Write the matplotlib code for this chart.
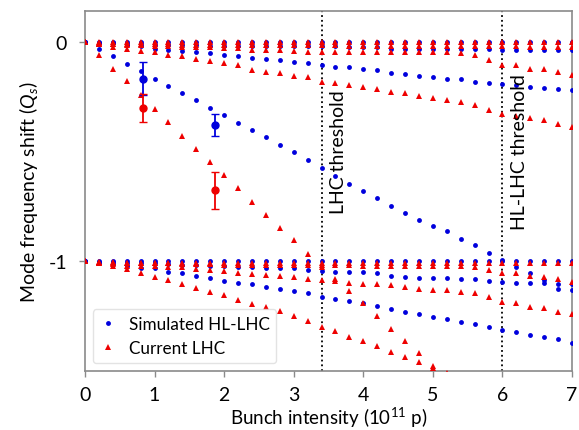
import numpy as np
import matplotlib
matplotlib.use("Agg")
import matplotlib.pyplot as plt

# Bunch intensity grid (1e11 p)
x = [0.0, 0.2, 0.4, 0.6, 0.8, 1.0, 1.2, 1.4, 1.6, 1.8, 2.0, 2.2, 2.4, 2.6, 2.8, 3.0, 3.2, 3.4,
     3.6, 3.8, 4.0, 4.2, 4.4, 4.6, 4.8, 5.0, 5.2, 5.4, 5.6, 5.8, 6.0, 6.2, 6.4, 6.6, 6.8, 7.0]

# ---- Simulated HL-LHC (blue) ----
hl_m0 = [0.0, 0.0, 0.0, 0.0, 0.0, 0.0, 0.0, 0.0, 0.0, 0.0, 0.0, 0.0, 0.0, 0.0, 0.0, 0.0, 0.0, 0.0,
         0.0, 0.0, 0.0, 0.0, 0.0, 0.0, 0.0, 0.0, 0.0, 0.0, 0.0, 0.0, 0.0, 0.0, 0.0, 0.0, 0.0, 0.0]
hl_m1 = [0.0, -0.005, -0.008, -0.01, -0.012, -0.014, -0.015, -0.016, -0.017, -0.018, -0.018, -0.019,
         -0.019, -0.02, -0.02, -0.02, -0.02, -0.02, -0.021, -0.022, -0.022, -0.023, -0.032, -0.033,
         -0.034, -0.034, -0.034, -0.035, -0.035, -0.035, -0.036, -0.036, -0.036, -0.037, -0.037, -0.037]
hl_m2 = [0.0, -0.004, -0.008, -0.013, -0.02, -0.032, -0.04, -0.043, -0.049, -0.053, -0.059, -0.065,
         -0.073, -0.079, -0.085, -0.091, -0.096, -0.106, -0.116, -0.116, -0.123, -0.127, -0.143, -0.148,
         -0.155, -0.162, -0.168, -0.172, -0.182, -0.186, -0.193, -0.199, -0.205, -0.211, -0.214, -0.22]
hl_m3 = [0.0, -0.035, -0.067, -0.102, -0.135, -0.169, -0.202, -0.233, -0.266, -0.301, -0.336, -0.37,
         -0.403, -0.434, -0.469, -0.501, -0.54, -0.577, -0.612, -0.647, -0.682, -0.713, -0.747, -0.782,
         -0.813, -0.84, -0.863, -0.897, -0.928, -0.963, -0.995, -1.027, -1.055, -1.085, -1.125, -1.13]
hl_l0 = [-1.0, -1.0, -1.0, -1.0, -1.0, -1.0, -1.0, -1.0, -1.0, -1.0, -1.0, -1.0, -1.0, -1.0, -1.0, -1.0,
         -1.0, -1.0, -1.0, -1.0, -1.0, -1.0, -1.0, -1.0, -1.0, -1.0, -1.0, -1.0, -1.0, -1.0, -1.0, -1.0,
         -1.0, -1.0, -1.0, -1.0]
hl_l1 = [-1.0, -1.002, -1.004, -1.006, -1.008, -1.01, -1.014, -1.016, -1.018, -1.02, -1.022, -1.024,
         -1.024, -1.029, -1.029, -1.033, -1.04, -1.043, -1.048, -1.051, -1.051, -1.053, -1.066, -1.07,
         -1.075, -1.075, -1.078, -1.082, -1.083, -1.09, -1.094, -1.097, -1.099, -1.1, -1.102, -1.104]
hl_l2 = [-1.0, -1.006, -1.012, -1.02, -1.029, -1.033, -1.047, -1.055, -1.067, -1.075, -1.088, -1.097,
         -1.105, -1.116, -1.125, -1.136, -1.145, -1.161, -1.173, -1.183, -1.192, -1.204, -1.218, -1.229,
         -1.241, -1.254, -1.265, -1.275, -1.288, -1.3, -1.313, -1.322, -1.334, -1.345, -1.355, -1.373]

# ---- Current LHC (red) ----
lhc_m0 = [0.0, 0.0, 0.0, 0.0, 0.0, 0.0, 0.0, 0.0, 0.0, 0.0, 0.0, 0.0, 0.0, 0.0, 0.0, 0.0, 0.0, 0.0,
          0.0, 0.0, 0.0, 0.0, 0.0, 0.0, 0.0, 0.0, 0.0, 0.0, 0.0, 0.0, 0.0, 0.0, 0.0, 0.0, 0.0, 0.0]
lhc_m1 = [0.0, -0.008, -0.009, -0.01, -0.011, -0.012, -0.012, -0.013, -0.013, -0.014, -0.014, -0.015,
          -0.015, -0.016, -0.016, -0.016, -0.017, -0.017, -0.017, -0.018, -0.018, -0.018, -0.019, -0.019,
          -0.019, -0.02, -0.02, -0.02, -0.02, -0.021, -0.021, -0.021, -0.022, -0.022, -0.022, -0.022]
lhc_m2 = [0.0, -0.01, -0.012, -0.015, -0.017, -0.018, -0.02, -0.022, -0.024, -0.026, -0.028, -0.03,
          -0.037, -0.04, -0.04, -0.042, -0.045, -0.046, -0.046, -0.047, -0.047, -0.047, -0.048, -0.048,
          -0.048, -0.049, -0.049, -0.05, -0.06, -0.084, -0.104, -0.104, -0.124, -0.126, -0.14, -0.151]
lhc_m3 = [0.0, -0.012, -0.024, -0.032, -0.043, -0.047, -0.059, -0.067, -0.078, -0.09, -0.096, -0.105,
          -0.131, -0.136, -0.142, -0.154, -0.163, -0.182, -0.186, -0.199, -0.208, -0.217, -0.228, -0.233,
          -0.248, -0.256, -0.264, -0.275, -0.29, -0.31, -0.329, -0.338, -0.347, -0.356, -0.374, -0.388]
lhc_m4 = [0.0, -0.062, -0.126, -0.181, -0.245, -0.306, -0.367, -0.428, -0.489, -0.55, -0.607, -0.668,
          -0.729, -0.79, -0.85, -0.903, -0.965, -1.025, -1.08, -1.136, -1.192, -1.25, -1.31, -1.365,
          -1.42, -1.477, np.nan, np.nan, np.nan, np.nan, np.nan, np.nan, np.nan, np.nan, np.nan, np.nan]
lhc_l0 = [-1.0, -1.008, -1.008, -1.008, -1.008, -1.008, -1.008, -1.008, -1.008, -1.008, -1.008, -1.008,
          -1.008, -1.008, -1.008, -1.008, -1.008, -1.008, -1.008, -1.008, -1.008, -1.008, -1.008, -1.008,
          -1.008, -1.008, -1.008, -1.008, -1.008, -1.008, -1.008, -1.008, -1.008, -1.008, -1.008, -1.008]
lhc_l1 = [-1.0, -1.003, -1.005, -1.006, -1.008, -1.009, -1.01, -1.012, -1.013, -1.014, -1.015, -1.015,
          -1.016, -1.016, -1.017, -1.017, -1.018, -1.018, -1.019, -1.019, -1.02, -1.02, -1.02, -1.021,
          -1.021, -1.022, -1.022, -1.023, -1.025, -1.04, -1.055, -1.055, -1.067, -1.07, -1.083, -1.094]
lhc_l2 = [-1.0, -1.005, -1.012, -1.02, -1.021, -1.021, -1.024, -1.026, -1.037, -1.04, -1.044, -1.052,
          -1.06, -1.061, -1.067, -1.07, -1.082, -1.086, -1.088, -1.099, -1.102, -1.105, -1.11, -1.117,
          -1.125, -1.13, -1.133, -1.14, -1.145, -1.164, -1.187, -1.19, -1.21, -1.213, -1.233, -1.24]
lhc_l3 = [-1.0, -1.006, -1.021, -1.037, -1.052, -1.07, -1.085, -1.105, -1.12, -1.138, -1.155, -1.176,
          -1.196, -1.21, -1.227, -1.25, -1.272, -1.3, -1.319, -1.344, -1.362, -1.387, -1.412, -1.437,
          -1.461, -1.486, -1.511, np.nan, np.nan, np.nan, np.nan, np.nan, np.nan, np.nan, np.nan, np.nan]

# measured points with error bars
meas_x = [0.84, 1.87]
meas_hl = [-0.169, -0.379]
meas_hl_err = [0.075, 0.05]
meas_lhc = [-0.301, -0.676]
meas_lhc_err = [0.065, 0.084]

thresholds = [3.4, 6.0]
threshold_labels = ["LHC threshold", "HL-LHC threshold"]

# ---- STYLE SETTINGS ----
plt.rcParams["font.family"] = ["Lato", "DejaVu Sans"]
plt.rcParams["axes.unicode_minus"] = False
plt.rcParams["mathtext.fontset"] = "custom"
plt.rcParams["mathtext.rm"] = "Lato"
plt.rcParams["mathtext.it"] = "Lato:italic"

blue = "#0000dd"
red = "#ee0000"
grey = "#8a8a8a"

fig = plt.figure(figsize=(5.79, 4.31), dpi=100)
ax = fig.add_axes([0.1468, 0.1369, 0.8411, 0.8353])

for i, s in enumerate([hl_m0, hl_m1, hl_m2, hl_m3, hl_l0, hl_l1, hl_l2]):
    ax.plot(x, s, "o", color=blue, ms=3.5, mew=0, zorder=3,
            label="Simulated HL-LHC" if i == 0 else None)
for i, s in enumerate([lhc_m0, lhc_m1, lhc_m2, lhc_m3, lhc_m4, lhc_l0, lhc_l1, lhc_l2, lhc_l3]):
    ax.plot(x, s, "^", color=red, ms=3.8, mew=0, zorder=3,
            label="Current LHC" if i == 0 else None)

ax.errorbar(meas_x, meas_hl, yerr=meas_hl_err, fmt="o", color=blue, ms=5, capsize=3,
            elinewidth=1.3, capthick=1, zorder=4)
ax.errorbar(meas_x, meas_lhc, yerr=meas_lhc_err, fmt="o", color=red, ms=5, capsize=3,
            elinewidth=1.3, capthick=1, zorder=4)

for t, lab in zip(thresholds, threshold_labels):
    ax.axvline(t, color="black", ls=":", lw=1.3, zorder=2)
    ax.text(t + 0.24, -0.5, lab, rotation=90, ha="center", va="center", fontsize=14)

ax.set_xlim(0, 7)
ax.set_ylim(-1.5, 0.14)
ax.set_xticks([0, 1, 2, 3, 4, 5, 6, 7])
ax.set_yticks([0, -1])
ax.set_yticklabels(["0", "-1"])
ax.tick_params(labelsize=14, color=grey, length=4, width=1)
ax.tick_params(axis="x", pad=7)
ax.tick_params(axis="y", pad=9)
for sp in ax.spines.values():
    sp.set_color(grey)
    sp.set_linewidth(1.2)

ax.set_xlabel("Bunch intensity (10$^{11}$ p)", fontsize=13.5, labelpad=1)
ax.set_ylabel("Mode frequency shift ($Q_s$)", fontsize=14, labelpad=6)

leg = ax.legend(loc="lower left", fontsize=12.3, handlelength=1.0, handletextpad=0.7,
                borderaxespad=0.45, fancybox=True)
leg.get_frame().set_edgecolor("#dddddd")

plt.savefig("out.png", dpi=100)
